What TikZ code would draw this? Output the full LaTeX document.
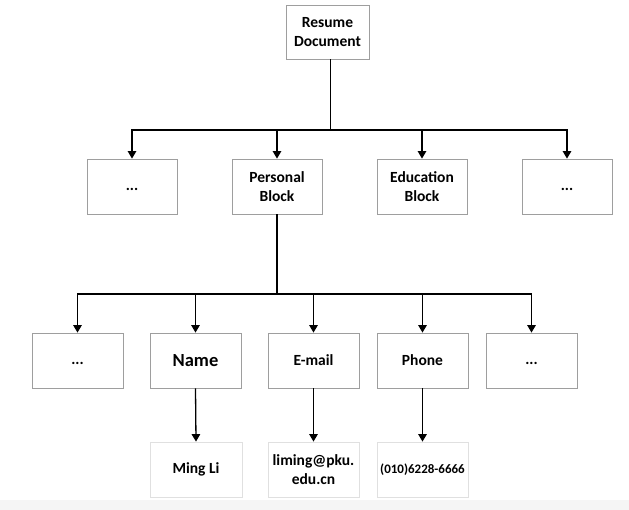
\documentclass[tikz,border=0pt]{standalone}
\usepackage{fontspec}
\setmainfont{Carlito}
\usetikzlibrary{arrows.meta}
\begin{document}
\begin{tikzpicture}[x=1pt,y=-1pt,
  box/.style={draw=black!38,line width=0.8pt,fill=white,minimum width=90pt,minimum height=55pt,
    inner sep=2pt,align=center,font=\bfseries\fontsize{15.5}{18.5}\selectfont},
  leaf/.style={box,draw=black!12},
  link/.style={line width=1.3pt,black},
  arr/.style={link,-{Triangle[width=8.5pt,length=7.5pt]}}]
\useasboundingbox (0,0) rectangle (629,510);
\fill[black!4] (0,500) rectangle (629,510);
% nodes
\node[box,minimum width=83pt,minimum height=54pt] (top) at (327.5,32) {Resume\\Document};
\node[box] (a1) at (132,186.5) {\strut...};
\node[box] (a2) at (277,186.5) {Personal\\Block};
\node[box] (a3) at (422,186.5) {Education\\Block};
\node[box] (a4) at (567,186.5) {\strut...};
\node[box,minimum width=91pt] (b1) at (77.5,360.5) {\strut...};
\node[box,minimum width=91pt,font=\bfseries\fontsize{18.5}{22}\selectfont] (b2) at (195.5,360.5) {Name};
\node[box,minimum width=91pt] (b3) at (313.5,360.5) {E-mail};
\node[box,minimum width=91pt] (b4) at (422.5,360.5) {Phone};
\node[box,minimum width=91pt] (b5) at (531.5,360.5) {\strut...};
\node[leaf,minimum width=92pt] (c2) at (196,469.5) {Ming Li};
\node[leaf,minimum width=91pt] (c3) at (313.5,469.5) {liming@pku.\\edu.cn};
\node[leaf,minimum width=91pt,font=\bfseries\fontsize{13}{15}\selectfont] (c4) at (422.5,469.5) {(010)6228-6666};
% connectors
\coordinate (j1) at ([xshift=3pt]top.south |- 0,130);
\draw[link] ([xshift=3pt]top.south) -- (j1);
\foreach \n in {a1,a2,a3,a4} \draw[arr] (j1) -| (\n.north);
\coordinate (j2) at (a2.south |- 0,294);
\draw[link] (a2.south) -- (j2);
\foreach \n in {b1,b2,b3,b4,b5} \draw[arr] (j2) -| (\n.north);
\draw[arr] (b2.south) -- (c2.north);
\draw[arr] (b3.south) -- (c3.north);
\draw[arr] (b4.south) -- (c4.north);
\end{tikzpicture}
\end{document}
